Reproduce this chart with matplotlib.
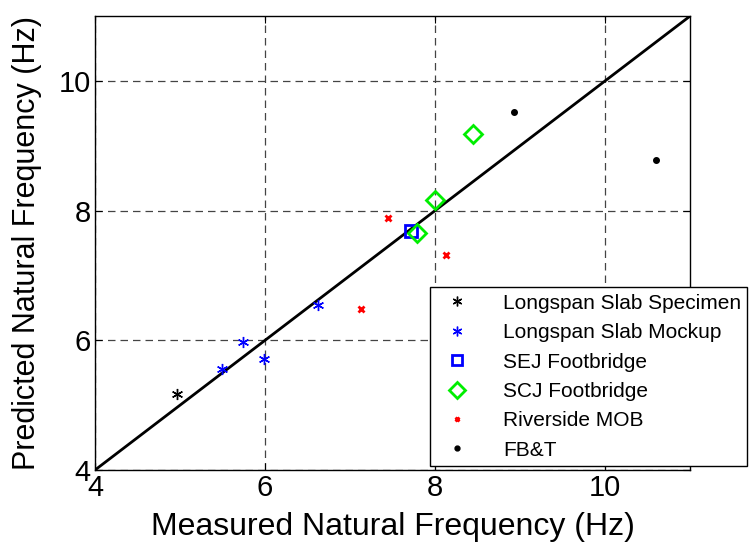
import numpy as np
import matplotlib.pyplot as plt

plt.rcParams['font.family'] = ['Liberation Sans', 'DejaVu Sans']

# measured vs predicted natural frequencies (Hz)
spec_x = [4.96]
spec_y = [5.17]
mock_x = [5.49, 5.74, 5.99, 6.62]
mock_y = [5.55, 5.98, 5.71, 6.55]
sej_x = [7.72]
sej_y = [7.68]
scj_x = [7.79, 8.00, 8.45]
scj_y = [7.66, 8.17, 9.18]
mob_x = [7.45, 8.13, 7.13]
mob_y = [7.88, 7.32, 6.49]
fbt_x = [8.93, 10.6]
fbt_y = [9.52, 8.78]

fig = plt.figure(figsize=(7.51, 5.48), dpi=100)
ax = fig.add_axes([0.1265, 0.1423, 0.7925, 0.8285])

ax.plot([4, 11], [4, 11], 'k-', linewidth=2, zorder=2)
ax.plot(spec_x, spec_y, linestyle='none', marker=(6, 2, 0), color='black',
        markersize=8, markeredgewidth=1, label='Longspan Slab Specimen', zorder=3)
ax.plot(mock_x, mock_y, linestyle='none', marker=(6, 2, 0), color='blue',
        markersize=8, markeredgewidth=1, label='Longspan Slab Mockup', zorder=3)
ax.plot(sej_x, sej_y, linestyle='none', marker='s', markerfacecolor='none',
        markeredgecolor='blue', markersize=8, markeredgewidth=2,
        label='SEJ Footbridge', zorder=3)
ax.plot(scj_x, scj_y, linestyle='none', marker='D', markerfacecolor='none',
        markeredgecolor='#00ee00', markersize=9, markeredgewidth=2,
        label='SCJ Footbridge', zorder=3)
ax.plot(mob_x, mob_y, linestyle='none', marker='x', color='red',
        markersize=4.5, markeredgewidth=2, label='Riverside MOB', zorder=3)
ax.plot(fbt_x, fbt_y, linestyle='none', marker='o', color='black',
        markersize=4, label='FB&T', zorder=3)

ax.set_xlim(4, 11)
ax.set_ylim(4, 11)
ax.set_xticks([4, 6, 8, 10])
ax.set_yticks([4, 6, 8, 10])
ax.grid(True, linestyle=(0, (6, 4)), color='#444444', linewidth=0.9)
ax.set_axisbelow(True)
ax.tick_params(direction='in', top=True, right=True, labelsize=21, length=5, pad=3)
for s in ax.spines.values():
    s.set_linewidth(1)

ax.set_xlabel('Measured Natural Frequency (Hz)', fontsize=23, labelpad=7)
ax.set_ylabel('Predicted Natural Frequency (Hz)', fontsize=22, labelpad=12)

leg = ax.legend(loc='lower left', bbox_to_anchor=(430 / 751, (548 - 466) / 548),
                bbox_transform=fig.transFigure, fontsize=15, fancybox=False,
                edgecolor='black', framealpha=1, borderpad=0.3,
                labelspacing=0.5, handletextpad=1.2, borderaxespad=0)
leg.get_frame().set_linewidth(1)
for h, ms in zip(leg.legend_handles, [7, 7, 7, 8, 3.5, 3.5]):
    h.set_markersize(ms)

fig.savefig('out.png', dpi=100)
